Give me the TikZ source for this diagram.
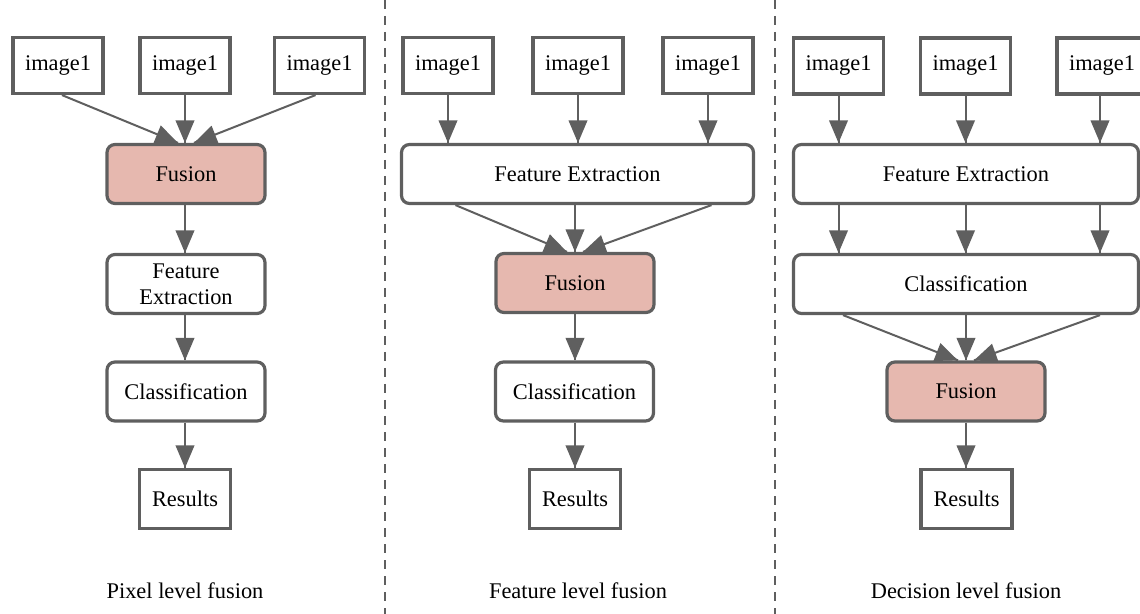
\documentclass[tikz,border=0pt]{standalone}
\usepackage{fontspec}
\setmainfont{Liberation Serif}
\usetikzlibrary{arrows}
\usetikzlibrary{decorations.markings}
\definecolor{edgegray}{HTML}{5F5F5F}
\definecolor{fusepink}{HTML}{E6B8AF}
\tikzset{flow/.style = {draw=edgegray, line width=1pt,
                        decoration={markings,
                                    mark=at position 1 with {\arrow[scale=1.3]{triangle 45}}},
                        postaction={decorate}}}
\tikzset{imgbox/.style = {draw=edgegray, line width=1.6pt, fill=white, inner sep=0,
                          minimum width=45pt, minimum height=28pt}}
\tikzset{stepbox/.style = {imgbox, rounded corners=4pt, align=center,
                           minimum width=79pt, minimum height=29.5pt}}
\tikzset{fusebox/.style = {stepbox, fill=fusepink}}
\tikzset{resbox/.style = {imgbox, minimum width=45.5pt, minimum height=29.5pt}}
\tikzset{sep/.style = {draw=edgegray, line width=1pt, dash pattern=on 4.5pt off 3.5pt}}

\begin{document}
\begin{tikzpicture}[x=0.5pt, y=-0.5pt,
    every node/.style={font=\fontsize{11.2pt}{13pt}\selectfont}]
      \useasboundingbox (0,0) rectangle (1140,614);

      \draw [sep] (385,0) -- (385,614);
      \draw [sep] (775,0) -- (775,614);

      % pixel level
      \node [imgbox] (pa) at (58,65.5) {image1};
      \node [imgbox] (pb) at (185,65.5) {image1};
      \node [imgbox] (pc) at (319.5,65.5) {image1};
      \node [fusebox] (pfus) at (186,174) {Fusion};
      \node [stepbox] (pfe) at (186,284) {Feature\\Extraction};
      \node [stepbox] (pcls) at (186,391.5) {Classification};
      \node [resbox] (pres) at (185,499) {Results};
      \node (pcap) at (185,591) {Pixel level fusion};

      \draw [flow] ([xshift=2pt]pa.south) -- ([xshift=-4pt]pfus.north);
      \draw [flow] (pb.south) -- (pb.south |- pfus.north);
      \draw [flow] ([xshift=-2pt]pc.south) -- ([xshift=4pt]pfus.north);
      \draw [flow] (pfus.south -| pres) -- (pfe.north -| pres);
      \draw [flow] (pfe.south -| pres) -- (pcls.north -| pres);
      \draw [flow] (pcls.south -| pres) -- (pres.north);

      % feature level
      \node [imgbox] (fa) at (448,65.5) {image1};
      \node [imgbox] (fb) at (578,65.5) {image1};
      \node [imgbox] (fc) at (708,65.5) {image1};
      \node [stepbox, minimum width=176pt] (ffe) at (577.5,174) {Feature Extraction};
      \node [fusebox] (ffus) at (575,283) {Fusion};
      \node [stepbox] (fcls) at (574.5,391.5) {Classification};
      \node [resbox] (fres) at (575,499) {Results};
      \node (fcap) at (578,591) {Feature level fusion};

      \draw [flow] (fa.south) -- (fa.south |- ffe.north);
      \draw [flow] (fb.south) -- (fb.south |- ffe.north);
      \draw [flow] (fc.south) -- (fc.south |- ffe.north);
      \draw [flow] ([xshift=-61pt]ffe.south) -- ([xshift=-4pt]ffus.north);
      \draw [flow] (ffe.south -| ffus) -- (ffus.north);
      \draw [flow] ([xshift=67pt]ffe.south) -- ([xshift=4pt]ffus.north);
      \draw [flow] (ffus.south) -- (fcls.north -| ffus);
      \draw [flow] (fcls.south -| fres) -- (fres.north);

      % decision level
      \node [imgbox] (da) at (838.5,66) {image1};
      \node [imgbox] (db) at (965.5,66) {image1};
      \node [imgbox] (dc) at (1102,66) {image1};
      \node [stepbox, minimum width=172.5pt] (dfe) at (966,174) {Feature Extraction};
      \node [stepbox, minimum width=172.5pt] (dcls) at (966,284) {Classification};
      \node [fusebox] (dfus) at (966,391.5) {Fusion};
      \node [resbox] (dres) at (966.5,499) {Results};
      \node (dcap) at (966,591) {Decision level fusion};

      \draw [flow] (da.south) -- (da.south |- dfe.north);
      \draw [flow] (db.south) -- (db.south |- dfe.north);
      \draw [flow] ([xshift=-1pt]dc.south) -- ([xshift=-1pt]dc.south |- dfe.north);
      \draw [flow] (da |- dfe.south) -- (da |- dcls.north);
      \draw [flow] (db |- dfe.south) -- (db |- dcls.north);
      \draw [flow] ([xshift=-1pt]dc |- dfe.south) -- ([xshift=-1pt]dc |- dcls.north);
      \draw [flow] ([xshift=-61.5pt]dcls.south) -- ([xshift=-4pt]dfus.north);
      \draw [flow] (dcls.south) -- (dfus.north);
      \draw [flow] ([xshift=67pt]dcls.south) -- ([xshift=4pt]dfus.north);
      \draw [flow] (dfus.south) -- (dres.north -| dfus);
\end{tikzpicture}
\end{document}
